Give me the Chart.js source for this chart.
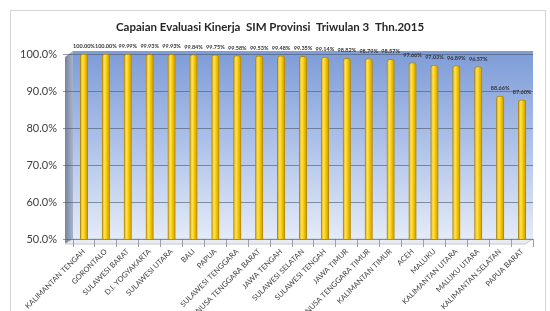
<!DOCTYPE html>
<html>
<head>
<meta charset="utf-8">
<script src="https://cdn.jsdelivr.net/npm/chart.js@4"></script>
<style>
    html, body { margin: 0; padding: 0; background: #fff; overflow: hidden; }
    #wrap { position: relative; width: 550px; height: 311px; }
    #frame { position: absolute; left: 10px; top: 10px; width: 534px; height: 320px; border: 1px solid #d4d4d4; }
    canvas { position: absolute; left: 0; top: 0; }
</style>
</head>
<body>
<div id="wrap">
    <div id="frame"></div>
    <canvas id="chart" width="550" height="311"></canvas>
</div>
<script>
// --- Data ---
const TITLE = 'Capaian Evaluasi Kinerja  SIM Provinsi  Triwulan 3  Thn.2015';

const PROVINCES = [
    'KALIMANTAN TENGAH', 'GORONTALO', 'SULAWESI BARAT', 'D.I. YOGYAKARTA', 'SULAWESI UTARA',
    'BALI', 'PAPUA', 'SULAWESI TENGGARA', 'NUSA TENGGARA BARAT', 'JAWA TENGAH',
    'SULAWESI SELATAN', 'SULAWESI TENGAH', 'JAWA TIMUR', 'NUSA TENGGARA TIMUR', 'KALIMANTAN TIMUR',
    'ACEH', 'MALUKU', 'KALIMANTAN UTARA', 'MALUKU UTARA', 'KALIMANTAN SELATAN', 'PAPUA BARAT'
];

const SCORES = [
    100.00, 100.00, 99.99, 99.93, 99.93,
    99.84, 99.75, 99.58, 99.53, 99.48,
    99.35, 99.14, 98.82, 98.79, 98.57,
    97.66, 97.03, 96.89, 96.57, 88.66, 87.60
];

const Y_MIN = 50;
const Y_MAX = 100;
const Y_STEP = 10;

const FONT = 'Lato, "Open Sans", sans-serif';

// --- Plugins ---

// blue gradient back wall, left side wall and floor
const wallPlugin = {
    id: 'walls',
    beforeDraw(chart) {
        const { ctx, chartArea: a } = chart;
        ctx.save();
        const g = ctx.createLinearGradient(0, a.top, 0, a.bottom);
        g.addColorStop(0, '#7f9dd8');
        g.addColorStop(0.5, '#afc3ea');
        g.addColorStop(1, '#e4ebf8');
        ctx.fillStyle = g;
        ctx.fillRect(a.left, a.top - 3, a.right - a.left, a.bottom - a.top + 3);

        // left wall
        const wg = ctx.createLinearGradient(a.left - 8, 0, a.left, 0);
        wg.addColorStop(0, '#75849f');
        wg.addColorStop(1, '#a7b3ca');
        ctx.fillStyle = wg;
        ctx.beginPath();
        ctx.moveTo(a.left - 8, a.top + 3);
        ctx.lineTo(a.left, a.top - 3);
        ctx.lineTo(a.left, a.bottom);
        ctx.lineTo(a.left - 8, a.bottom + 5);
        ctx.closePath();
        ctx.fill();

        // floor
        ctx.fillStyle = '#e9ecf2';
        ctx.strokeStyle = '#c3c8d2';
        ctx.lineWidth = 1;
        ctx.beginPath();
        ctx.moveTo(a.left, a.bottom);
        ctx.lineTo(a.right, a.bottom);
        ctx.lineTo(a.right - 8, a.bottom + 5);
        ctx.lineTo(a.left - 8, a.bottom + 5);
        ctx.closePath();
        ctx.fill();
        ctx.stroke();

        // title
        ctx.font = 'bold 11.5px ' + FONT;
        ctx.fillStyle = '#262626';
        ctx.textAlign = 'center';
        ctx.textBaseline = 'middle';
        ctx.fillText(TITLE, 270, 27);
        ctx.restore();
    }
};

// small value labels above each bar
const valueLabels = {
    id: 'valueLabels',
    afterDatasetsDraw(chart) {
        const { ctx } = chart;
        const meta = chart.getDatasetMeta(0);
        ctx.save();
        ctx.font = 'bold 5.5px ' + FONT;
        ctx.fillStyle = '#333';
        ctx.textAlign = 'center';
        ctx.textBaseline = 'bottom';
        meta.data.forEach((bar, i) => {
            ctx.fillText(SCORES[i].toFixed(2) + '%', bar.x, bar.y - 5);
        });
        ctx.restore();
    }
};

function cylinderFill(context) {
    const chart = context.chart;
    const x = chart.scales.x;
    if (!x || !chart.chartArea || context.dataIndex === undefined) return '#f2c200';
    const cx = x.getPixelForValue(context.dataIndex);
    if (!isFinite(cx)) return '#f2c200';
    const g = chart.ctx.createLinearGradient(cx - 4, 0, cx + 4, 0);
    g.addColorStop(0, '#d9a600');
    g.addColorStop(0.35, '#ffe35a');
    g.addColorStop(0.6, '#f5c800');
    g.addColorStop(1, '#c89400');
    return g;
}

// --- Chart ---

new Chart(document.getElementById('chart'), {
    type: 'bar',
    data: {
        labels: PROVINCES,
        datasets: [{
            data: SCORES,
            backgroundColor: cylinderFill,
            borderColor: '#b08a10',
            borderWidth: 1,
            borderRadius: { topLeft: 3, topRight: 3 },
            borderSkipped: 'bottom',
            barThickness: 7.5
        }]
    },
    options: {
        responsive: false,
        animation: false,
        layout: { padding: { top: 54, right: 17, left: 0, bottom: 0 } },
        plugins: {
            legend: { display: false },
            tooltip: { enabled: false },
            title: { display: false }
        },
        scales: {
            x: {
                afterFit(scale) { scale.height = 72; },
                grid: { drawOnChartArea: false, drawTicks: true, tickLength: 8, color: '#a0a0a0' },
                border: { display: false },
                ticks: {
                    autoSkip: false,
                    maxRotation: 45,
                    minRotation: 45,
                    padding: 0,
                    color: '#404040',
                    font: { family: FONT, size: 7.5 }
                }
            },
            y: {
                min: Y_MIN,
                max: Y_MAX,
                afterFit(scale) { scale.width = 73; },
                grid: { color: 'rgba(75,85,105,0.6)', tickLength: 10, lineWidth: 1 },
                border: { display: false },
                ticks: {
                    stepSize: Y_STEP,
                    padding: 6,
                    color: '#404040',
                    font: { family: FONT, size: 11 },
                    callback: v => v.toFixed(1) + '%'
                }
            }
        }
    },
    plugins: [wallPlugin, valueLabels]
});
</script>
</body>
</html>
